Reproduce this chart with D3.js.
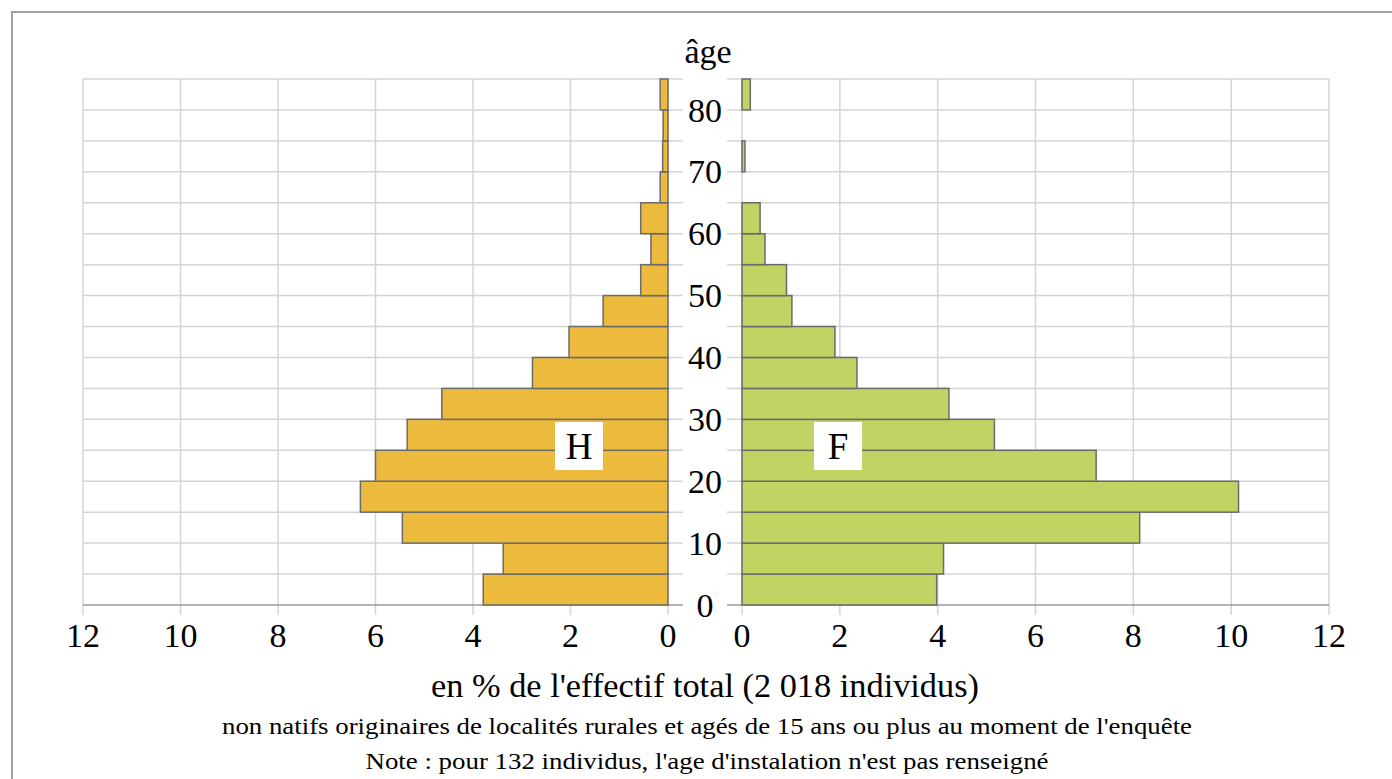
<!DOCTYPE html>
<html>
<head>
<meta charset="utf-8">
<script src="https://cdn.jsdelivr.net/npm/d3@7"></script>
<style>
  body { margin: 0; background: #fff; }
  text { font-family: "Liberation Serif", "DejaVu Serif", serif; fill: #000; }
</style>
</head>
<body>
<div id="chart"></div>
<script>
// age groups (lower bound of each 5-year class)
const ageGroups = [0, 5, 10, 15, 20, 25, 30, 35, 40, 45, 50, 55, 60, 65, 70, 75, 80];
// % of total, men (H) and women (F)
const hommes = [3.79, 3.38, 5.45, 6.31, 6.0, 5.35, 4.64, 2.78, 2.03, 1.33, 0.56, 0.35, 0.56, 0.16, 0.11, 0.1, 0.16];
const femmes = [3.98, 4.12, 8.13, 10.15, 7.24, 5.16, 4.23, 2.35, 1.9, 1.02, 0.91, 0.47, 0.37, 0, 0.06, 0, 0.17];
const xTicks = [0, 2, 4, 6, 8, 10, 12];
const ageTicks = [0, 10, 20, 30, 40, 50, 60, 70, 80];
const gridAges = d3.range(0, 90, 5);

const W = 1392, H = 779;
const svg = d3.select('#chart').append('svg')
    .attr('width', W).attr('height', H);

// outer frame
svg.append('rect')
    .attr('x', 12).attr('y', 12)
    .attr('width', W).attr('height', H)
    .attr('fill', 'none')
    .attr('stroke', '#a0a0a0')
    .attr('stroke-width', 2);

const y = d3.scaleLinear().domain([0, 85]).range([605, 79]);
const xL = d3.scaleLinear().domain([0, 12]).range([668, 83]);
const xR = d3.scaleLinear().domain([0, 12]).range([742, 1329]);
const midX = 705;
const gridColor = '#d4d4d4';

// horizontal grid (with short ticks toward the centre)
[[xL, 15], [xR, -15]].forEach(([x, ext]) => {
    svg.append('g').selectAll('line')
        .data(gridAges.slice(1))
        .join('line')
        .attr('x1', x(12)).attr('x2', x(0) + ext)
        .attr('y1', (d) => y(d)).attr('y2', (d) => y(d))
        .attr('stroke', gridColor).attr('stroke-width', 1.5);

    svg.append('g').selectAll('line')
        .data(xTicks)
        .join('line')
        .attr('x1', (d) => x(d)).attr('x2', (d) => x(d))
        .attr('y1', y(85)).attr('y2', y(0) + 10)
        .attr('stroke', gridColor).attr('stroke-width', 1.5);

    // bottom axis line
    svg.append('line')
        .attr('x1', x(12)).attr('x2', x(0) + ext)
        .attr('y1', y(0)).attr('y2', y(0))
        .attr('stroke', '#9a9a9a').attr('stroke-width', 1.5);

    svg.append('g').selectAll('text')
        .data(xTicks)
        .join('text')
        .attr('x', (d) => x(d))
        .attr('y', 647)
        .attr('text-anchor', 'middle')
        .attr('font-size', 34)
        .text((d) => d);
});

const barH = y(0) - y(5);

svg.append('g').selectAll('rect')
    .data(ageGroups)
    .join('rect')
    .attr('x', (d, i) => xL(hommes[i]))
    .attr('y', (d) => y(d + 5))
    .attr('width', (d, i) => xL(0) - xL(hommes[i]))
    .attr('height', barH)
    .attr('fill', '#ecba3d')
    .attr('stroke', '#6b6b6b')
    .attr('stroke-width', 1.5);

svg.append('g').selectAll('rect')
    .data(ageGroups.filter((d, i) => femmes[i] > 0))
    .join('rect')
    .attr('x', xR(0))
    .attr('y', (d) => y(d + 5))
    .attr('width', (d) => xR(femmes[ageGroups.indexOf(d)]) - xR(0))
    .attr('height', barH)
    .attr('fill', '#bfd462')
    .attr('stroke', '#6b6b6b')
    .attr('stroke-width', 1.5);

// age labels
svg.append('g').selectAll('text')
    .data(ageTicks)
    .join('text')
    .attr('x', midX)
    .attr('y', (d) => y(d))
    .attr('dy', '0.34em')
    .attr('text-anchor', 'middle')
    .attr('font-size', 34)
    .text((d) => d);

svg.append('text')
    .attr('x', midX + 3).attr('y', 63)
    .attr('text-anchor', 'middle')
    .attr('font-size', 34)
    .text('âge');

// H / F labels in white boxes
[['H', 579], ['F', 838]].forEach(([lab, cx]) => {
    svg.append('rect')
        .attr('x', cx - 24).attr('y', 422)
        .attr('width', 48).attr('height', 48)
        .attr('fill', '#fff');
    svg.append('text')
        .attr('x', cx).attr('y', 446)
        .attr('dy', '0.35em')
        .attr('text-anchor', 'middle')
        .attr('font-size', 37)
        .text(lab);
});

svg.append('text')
    .attr('x', midX).attr('y', 697)
    .attr('text-anchor', 'middle')
    .attr('font-size', 34)
    .attr('textLength', 548)
    .attr('lengthAdjust', 'spacingAndGlyphs')
    .text("en % de l'effectif total (2 018 individus)");

svg.append('text')
    .attr('x', midX + 2).attr('y', 734)
    .attr('text-anchor', 'middle')
    .attr('font-size', 24)
    .attr('textLength', 970)
    .attr('lengthAdjust', 'spacingAndGlyphs')
    .text("non natifs originaires de localités rurales et agés de 15 ans ou plus au moment de l'enquête");

svg.append('text')
    .attr('x', midX + 2).attr('y', 769)
    .attr('text-anchor', 'middle')
    .attr('font-size', 24)
    .attr('textLength', 683)
    .attr('lengthAdjust', 'spacingAndGlyphs')
    .text("Note : pour 132 individus, l'age d'instalation n'est pas renseigné");
</script>
</body>
</html>
